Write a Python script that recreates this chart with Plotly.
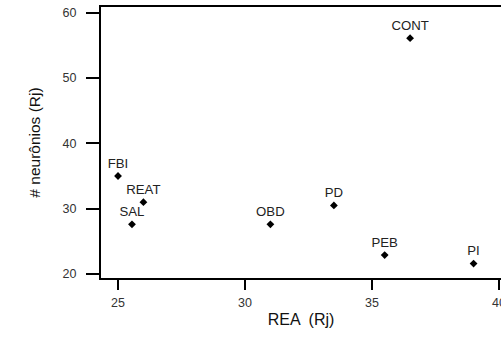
import plotly.graph_objects as go

labels = ["FBI", "REAT", "SAL", "OBD", "PD", "PEB", "PI", "CONT"]
rea = [25.0, 26.0, 25.55, 31.0, 33.5, 35.5, 39.0, 36.5]
neuronios = [35.0, 31.0, 27.6, 27.6, 30.5, 22.9, 21.6, 56.1]

x_ticks = [25, 30, 35, 40]
y_ticks = [20, 30, 40, 50, 60]

fig = go.Figure(go.Scatter(
    x=rea, y=neuronios, text=labels,
    mode="markers+text", textposition="top center",
    marker=dict(symbol="diamond", size=6, color="black"),
    textfont=dict(family="Liberation Sans, Arial", size=13.2, color="#222"),
    cliponaxis=False, hoverinfo="skip",
))

fig.update_layout(
    width=501, height=337,
    margin=dict(l=101, r=0, t=7, b=59, autoexpand=False),
    paper_bgcolor="white", plot_bgcolor="white",
    showlegend=False,
    font=dict(family="Liberation Sans, Arial", color="#222"),
)
fig.update_xaxes(
    range=[24.33, 40.08], tickvals=x_ticks, ticks="outside", ticklen=10, tickwidth=2,
    tickcolor="black", showline=True, linewidth=2, linecolor="black", mirror=True,
    showgrid=False, zeroline=False, tickfont=dict(size=12.5, color="#333"),
    automargin=False, ticklabeloverflow="allow", ticklabelstandoff=2,
    title=dict(text="REA  (Rj)", font=dict(size=16, color="#111"), standoff=5),
)
fig.update_yaxes(
    range=[19.39, 60.87], tickvals=y_ticks, ticks="outside", ticklen=13, tickwidth=2,
    tickcolor="black", showline=True, linewidth=2, linecolor="black", mirror=False,
    showgrid=False, zeroline=False, tickfont=dict(size=12.5, color="#333"),
    automargin=False, ticklabelstandoff=7,
    title=dict(text="# neurônios (Rj)", font=dict(size=15.5, color="#111"), standoff=18),
)

fig.write_html(
    "out.html",
    config={"displayModeBar": False, "staticPlot": True},
    post_script="document.body.style.margin='0';document.body.style.overflow='hidden';",
)
